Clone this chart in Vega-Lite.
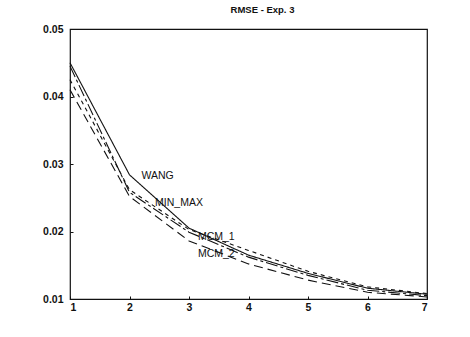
{
  "$schema": "https://vega.github.io/schema/vega-lite/v6.json",
  "autosize": "none",
  "width": 357,
  "height": 270,
  "padding": {"left": 70, "top": 29, "right": 43, "bottom": 38},
  "background": "white",
  "title": {"text": "RMSE - Exp. 3", "fontSize": 9.5, "font": "Liberation Sans", "fontWeight": "bold", "offset": 10, "dx": 14, "color": "#111"},
  "config": {
    "view": {"stroke": "#111", "strokeWidth": 1.2},
    "axis": {"grid": false, "domain": false, "tickColor": "#111", "tickSize": -3, "labelFont": "Liberation Sans", "labelFontSize": 10.5, "labelFontWeight": "bold", "labelColor": "#111", "title": null}
  },
  "datasets": {
    "lines": [
      {"x": 1, "y": 0.0450, "s": "WANG"}, {"x": 2, "y": 0.0284, "s": "WANG"}, {"x": 3, "y": 0.0205, "s": "WANG"}, {"x": 4, "y": 0.0165, "s": "WANG"}, {"x": 5, "y": 0.0138, "s": "WANG"}, {"x": 6, "y": 0.0116, "s": "WANG"}, {"x": 7, "y": 0.0107, "s": "WANG"},
      {"x": 1, "y": 0.0445, "s": "MIN_MAX"}, {"x": 2, "y": 0.0258, "s": "MIN_MAX"}, {"x": 3, "y": 0.0199, "s": "MIN_MAX"}, {"x": 4, "y": 0.0162, "s": "MIN_MAX"}, {"x": 5, "y": 0.0135, "s": "MIN_MAX"}, {"x": 6, "y": 0.0113, "s": "MIN_MAX"}, {"x": 7, "y": 0.0105, "s": "MIN_MAX"},
      {"x": 1, "y": 0.0425, "s": "MCM_1"}, {"x": 2, "y": 0.0262, "s": "MCM_1"}, {"x": 3, "y": 0.0203, "s": "MCM_1"}, {"x": 4, "y": 0.0172, "s": "MCM_1"}, {"x": 5, "y": 0.0141, "s": "MCM_1"}, {"x": 6, "y": 0.0118, "s": "MCM_1"}, {"x": 7, "y": 0.0108, "s": "MCM_1"},
      {"x": 1, "y": 0.0410, "s": "MCM_2"}, {"x": 2, "y": 0.0252, "s": "MCM_2"}, {"x": 3, "y": 0.0186, "s": "MCM_2"}, {"x": 4, "y": 0.0152, "s": "MCM_2"}, {"x": 5, "y": 0.0128, "s": "MCM_2"}, {"x": 6, "y": 0.0110, "s": "MCM_2"}, {"x": 7, "y": 0.0103, "s": "MCM_2"}
    ],
    "labels": [
      {"x": 2.2, "y": 0.0282, "t": "WANG"},
      {"x": 2.43, "y": 0.0242, "t": "MIN_MAX"},
      {"x": 3.15, "y": 0.0192, "t": "MCM_1"},
      {"x": 3.15, "y": 0.0166, "t": "MCM_2"}
    ]
  },
  "layer": [
    {
      "data": {"name": "lines"},
      "mark": {"type": "line", "color": "#111", "strokeWidth": 1.1},
      "encoding": {
        "x": {"field": "x", "type": "quantitative", "scale": {"domain": [1, 7], "nice": false}, "axis": {"values": [1, 2, 3, 4, 5, 6, 7], "format": "d", "labelPadding": 6}},
        "y": {"field": "y", "type": "quantitative", "scale": {"domain": [0.01, 0.05], "nice": false, "zero": false}, "axis": {"values": [0.01, 0.02, 0.03, 0.04, 0.05], "format": ".2f", "labelPadding": 10}},
        "detail": {"field": "s"},
        "strokeDash": {"field": "s", "type": "nominal", "legend": null,
          "scale": {"domain": ["WANG", "MIN_MAX", "MCM_1", "MCM_2"], "range": [[1, 0], [12, 3, 3, 3], [4, 4], [9, 5]]}}
      }
    },
    {
      "data": {"name": "labels"},
      "mark": {"type": "text", "align": "left", "baseline": "middle", "font": "Liberation Sans", "fontSize": 10.5, "color": "#111"},
      "encoding": {
        "x": {"field": "x", "type": "quantitative"},
        "y": {"field": "y", "type": "quantitative"},
        "text": {"field": "t"}
      }
    }
  ]
}
